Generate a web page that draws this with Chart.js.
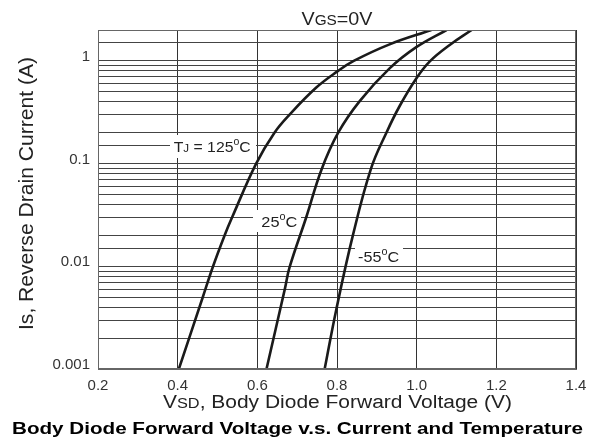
<!DOCTYPE html>
<html>
<head>
<meta charset="utf-8">
<script src="https://cdn.jsdelivr.net/npm/chart.js@4.4.0/dist/chart.umd.min.js"></script>
<style>
  html, body { margin: 0; padding: 0; background: #fff; }
  #wrap { width: 608px; height: 442px; position: relative; }
</style>
</head>
<body>
<div id="wrap"><canvas id="chart" width="608" height="442"></canvas></div>
<script>
// 数据：曲线点（VSD 电压, IS 电流）

var xTicks = [0.2, 0.4, 0.6, 0.8, 1.0, 1.2, 1.4];
var yTickLabels = [0.001, 0.01, 0.1, 1];

var v125 = [0.403, 0.463, 0.488, 0.518, 0.537, 0.597, 0.643, 0.681, 0.748, 0.801, 0.842, 0.932, 1.037];
var i125 = [0.001, 0.005, 0.0098, 0.0201, 0.0302, 0.100, 0.200, 0.300, 0.550, 0.790, 1.00, 1.45, 2.0];

var v25 = [0.623, 0.669, 0.681, 0.723, 0.761, 0.803, 0.857, 0.932, 0.999, 1.075];
var i25 = [0.001, 0.0060, 0.0098, 0.0302, 0.0873, 0.200, 0.406, 0.845, 1.36, 2.0];

var vm55 = [0.769, 0.798, 0.840, 0.886, 0.924, 0.958, 0.999, 1.033, 1.083, 1.138];
var im55 = [0.001, 0.00376, 0.0201, 0.0908, 0.200, 0.368, 0.675, 0.99, 1.43, 2.0];

var FONT = '"Liberation Sans", Arial, sans-serif';

function toPoints(xs, ys) {
    return xs.map(function(x, i) { return { x: x, y: ys[i] }; });
}

function curve(label, xs, ys) {
    return {
        label: label,
        data: toPoints(xs, ys),
        showLine: true,
        borderColor: '#1a1a1a',
        borderWidth: 2.6,
        pointRadius: 0,
        tension: 0.4,
        fill: false,
    };
}

// 画大小混排的文字，parts = [[文字, 字号, 粗细, 上下偏移], ...]，width 为目标宽度
function drawRich(ctx, parts, x, y, align, width) {
    var total = 0;
    parts.forEach(function(p) {
        ctx.font = (p[2] || '') + ' ' + p[1] + 'px ' + FONT;
        total += ctx.measureText(p[0]).width;
    });
    var s = width ? width / total : 1;
    var start = align === 'center' ? x - total * s / 2 : x;
    ctx.save();
    ctx.translate(start, y);
    ctx.scale(s, 1);
    var cx = 0;
    parts.forEach(function(p) {
        ctx.font = (p[2] || '') + ' ' + p[1] + 'px ' + FONT;
        ctx.fillText(p[0], cx, p[3] || 0);
        cx += ctx.measureText(p[0]).width;
    });
    ctx.restore();
}

var textPlugin = {
    id: 'textPlugin',
    beforeDatasetsDraw: function(chart) {
        // 曲线标签的白底，盖住网格线
        var ctx = chart.ctx;
        ctx.save();
        ctx.fillStyle = '#fff';
        ctx.fillRect(170, 135, 86, 23);
        ctx.fillRect(253, 210, 48, 22);
        ctx.fillRect(355, 246, 48, 20);
        ctx.restore();
    },
    afterDatasetsDraw: function(chart) {
        var ctx = chart.ctx;
        var xs = chart.scales.x;
        var ys = chart.scales.y;
        ctx.save();
        ctx.textBaseline = 'alphabetic';
        ctx.textAlign = 'left';

        ctx.fillStyle = '#222';
        drawRich(ctx, [['T', 15], ['J', 11], [' = 125', 15], ['o', 10, '', -7], ['C', 15]],
            xs.getPixelForValue(0.39), ys.getPixelForValue(0.13), 'left', 77);
        drawRich(ctx, [['25', 15], ['o', 10, '', -7], ['C', 15]],
            xs.getPixelForValue(0.61), ys.getPixelForValue(0.0241), 'left', 36);
        drawRich(ctx, [['-55', 15], ['o', 10, '', -7], ['C', 15]],
            xs.getPixelForValue(0.853), ys.getPixelForValue(0.011), 'left', 41);

        // 顶部条件
        drawRich(ctx, [['V', 18], ['GS', 14], ['=0V', 18]], 337, 25, 'center', 71);

        // X 轴标题
        drawRich(ctx, [['V', 18], ['SD', 14], [', Body Diode Forward Voltage (V)', 18]],
            337.5, 407.5, 'center', 349);

        // Y 轴标题
        ctx.save();
        ctx.translate(33, 193.5);
        ctx.rotate(-Math.PI / 2);
        drawRich(ctx, [['Is, Reverse Drain Current (A)', 20]], 0, 0, 'center', 273);
        ctx.restore();

        // 底部标题
        ctx.fillStyle = '#000';
        drawRich(ctx, [['Body Diode Forward Voltage v.s. Current and Temperature', 17, 'bold']],
            297.5, 434, 'center', 571);
        ctx.restore();
    }
};

var ctx = document.getElementById('chart').getContext('2d');

var chart = new Chart(ctx, {
    type: 'scatter',
    data: {
        datasets: [
            curve('125C', v125, i125),
            curve('25C', v25, i25),
            curve('-55C', vm55, im55),
        ],
    },
    options: {
        responsive: false,
        animation: false,
        layout: { padding: { top: 30, right: 32, left: 0, bottom: 0 } },
        plugins: {
            legend: { display: false },
            tooltip: { enabled: false },
        },
        scales: {
            x: {
                type: 'linear',
                min: 0.2,
                max: 1.4,
                afterBuildTicks: function(scale) {
                    scale.ticks = xTicks.map(function(v) { return { value: v }; });
                },
                afterFit: function(scale) { scale.height = 73; },
                grid: { color: '#333', lineWidth: 1, drawTicks: false },
                border: { color: '#666', width: 1 },
                ticks: {
                    padding: 8,
                    color: '#333',
                    font: { family: FONT, size: 15 },
                    callback: function(v) { return Number(v).toFixed(1); },
                },
            },
            y: {
                type: 'logarithmic',
                min: 0.001,
                max: 2,
                afterFit: function(scale) { scale.width = 98; },
                grid: { color: '#444', lineWidth: 1, drawTicks: false },
                border: { color: '#666', width: 1 },
                ticks: {
                    padding: 8,
                    labelOffset: -4,
                    color: '#333',
                    autoSkip: false,
                    font: { family: FONT, size: 15 },
                    callback: function(v) {
                        for (var k = 0; k < yTickLabels.length; k++) {
                            if (Math.abs(v - yTickLabels[k]) < yTickLabels[k] * 1e-6) {
                                return String(yTickLabels[k]);
                            }
                        }
                        return '';
                    },
                },
            },
        },
    },
    plugins: [textPlugin, {
        id: 'frame',
        afterDraw: function(c) {
            var a = c.chartArea;
            c.ctx.save();
            c.ctx.strokeStyle = '#666';
            c.ctx.lineWidth = 1;
            c.ctx.strokeRect(a.left + 0.5, a.top + 0.5, a.right - a.left - 1, a.bottom - a.top - 1);
            c.ctx.restore();
        }
    }],
});
</script>
</body>
</html>
